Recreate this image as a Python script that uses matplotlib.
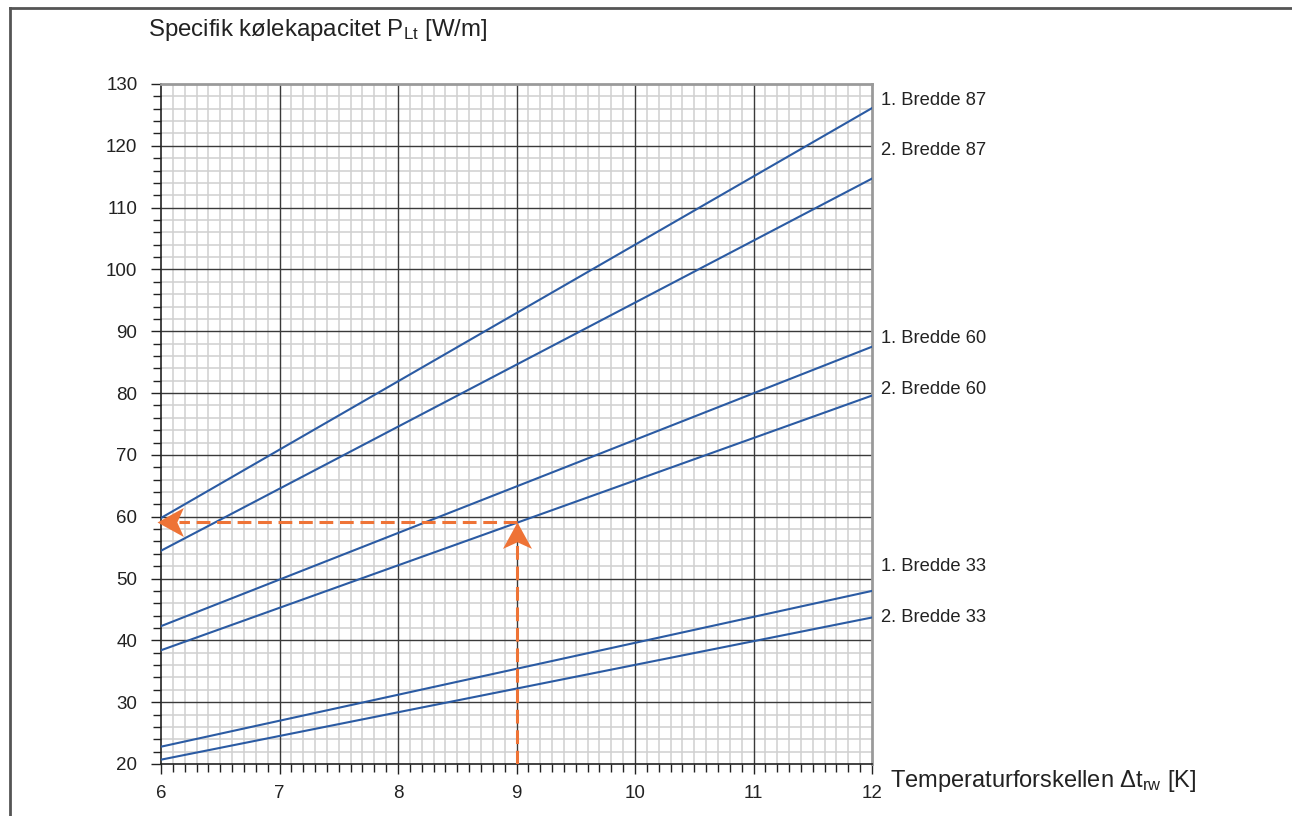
import numpy as np
import matplotlib
matplotlib.use("Agg")
import matplotlib.pyplot as plt
from matplotlib.ticker import MultipleLocator
from matplotlib.lines import Line2D
from matplotlib.path import Path

plt.rcParams['font.family'] = ['Liberation Sans', 'DejaVu Sans']
plt.rcParams['mathtext.fontset'] = 'custom'
plt.rcParams['mathtext.rm'] = 'Liberation Sans'
plt.rcParams['mathtext.it'] = 'Liberation Sans'

# curve end points (x = 6 and x = 12)
x_ends = [6, 12]
names = ["1. Bredde 87", "2. Bredde 87", "1. Bredde 60",
         "2. Bredde 60", "1. Bredde 33", "2. Bredde 33"]
y_start = [59.8, 54.5, 42.3, 38.4, 22.8, 20.7]
y_end = [126.1, 114.7, 87.5, 79.6, 48.0, 43.7]
label_y = [127.4, 119.2, 88.9, 80.5, 52.0, 43.7]

# example reading
ex_x = 9
ex_y = 59.1

blue = "#2b5ba3"
orange = "#ee7336"
txt = '#222222'

fig = plt.figure(figsize=(12.92, 8.16), dpi=100)
ax = fig.add_axes([161/1292, 52/816, 711/1292, 680/816])

ax.set_xlim(6, 12)
ax.set_ylim(20, 130)
ax.xaxis.set_major_locator(MultipleLocator(1))
ax.xaxis.set_minor_locator(MultipleLocator(0.1))
ax.yaxis.set_major_locator(MultipleLocator(10))
ax.yaxis.set_minor_locator(MultipleLocator(2))

# light minor grid, dark major grid drawn on top of it
ax.grid(which='minor', color='#d0d0d0', lw=1.1)
ax.set_axisbelow(True)
ax.vlines(np.arange(7, 12), 20, 130, color='#3a3a3a', lw=1.0, zorder=1.5)
ax.hlines(np.arange(30, 130, 10), 6, 12, color='#3a3a3a', lw=1.0, zorder=1.5)

ax.tick_params(which='both', direction='out', colors=txt, labelsize=13.5,
               labelcolor=txt)
ax.tick_params(which='major', length=7, width=1.0)
ax.tick_params(which='minor', length=6, width=1.0)
ax.tick_params(axis='x', pad=8)
ax.tick_params(axis='y', pad=10)

for s in ['left', 'bottom']:
    ax.spines[s].set_color(txt)
    ax.spines[s].set_linewidth(1.2)
for s in ['top', 'right']:
    ax.spines[s].set_color('#9a9a9a')
    ax.spines[s].set_linewidth(2.0)

for i in range(len(names)):
    ax.plot(x_ends, [y_start[i], y_end[i]], color=blue, lw=1.5, zorder=3)
    ax.text(12.08, label_y[i], names[i], fontsize=13.2, color=txt,
            va='center', ha='left', clip_on=False)

# dashed reading lines with notched arrow heads
ax.plot([ex_x, ex_x], [20, ex_y - 2.5], color=orange, lw=2.2,
        dashes=(4.5, 2.2), zorder=4)
ax.plot([ex_x, 6.15], [ex_y, ex_y], color=orange, lw=2.2,
        dashes=(4.5, 2.2), zorder=4)

head_up = Path([(0, 0), (-0.55, -1), (0, -0.75), (0.55, -1), (0, 0)],
               [Path.MOVETO, Path.LINETO, Path.LINETO, Path.LINETO, Path.CLOSEPOLY])
head_left = Path([(0, 0), (1, 0.55), (0.75, 0), (1, -0.55), (0, 0)],
                 [Path.MOVETO, Path.LINETO, Path.LINETO, Path.LINETO, Path.CLOSEPOLY])
ax.plot([ex_x], [ex_y], marker=head_up, ms=38, color=orange, mew=0,
        zorder=5, clip_on=False)
ax.plot([5.965], [ex_y], marker=head_left, ms=38, color=orange, mew=0,
        zorder=5, clip_on=False)

fig.text(148/1292, 1 - 30/816, r"Specifik kølekapacitet P$_{\mathrm{Lt}}$ [W/m]",
         fontsize=17.3, color=txt, va='center', ha='left')
fig.text(890/1292, 1 - 781/816, r"Temperaturforskellen $\Delta$t$_{\mathrm{rw}}$ [K]",
         fontsize=17, color=txt, va='center', ha='left')

# outer frame
fig.add_artist(Line2D([10/1292, 1], [1 - 8/816, 1 - 8/816], color='#555555', lw=2,
                      transform=fig.transFigure))
fig.add_artist(Line2D([10/1292, 10/1292], [0, 1 - 8/816], color='#555555', lw=2,
                      transform=fig.transFigure))

fig.savefig("out.png", dpi=100)
